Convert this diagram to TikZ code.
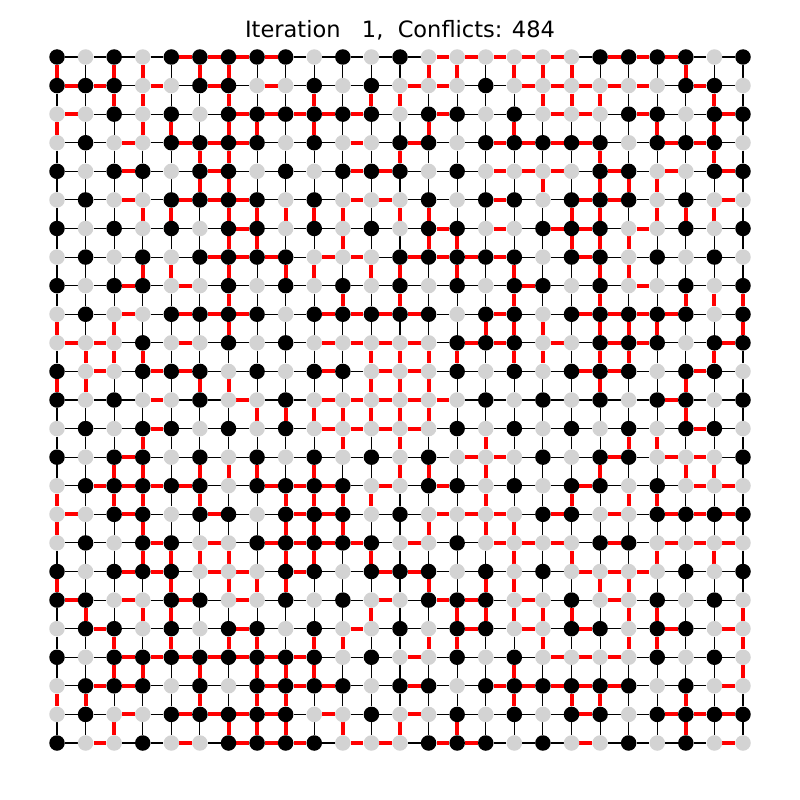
\documentclass[tikz,border=0pt]{standalone}
\usepackage{fontspec}
\setmainfont{DejaVu Sans}
\definecolor{ngray}{HTML}{D3D3D3}
\definecolor{cred}{HTML}{FF0000}
\pgfdeclarelayer{edges}
\pgfsetlayers{edges,main}
\newcommand\gsetrow[2]{\foreach \v [count=\c from 0] in {#2}{\expandafter\xdef\csname gcolX#1X\c\endcsname{\v}}}
\newcommand\gcol[2]{\csname gcolX#1X#2\endcsname}
\gsetrow{0}{1,0,1,0,1,1,1,1,1,0,1,0,1,0,0,0,0,0,0,1,1,1,1,0,1}
\gsetrow{1}{1,1,1,0,0,1,1,0,0,1,0,1,0,0,0,1,0,0,0,0,0,0,1,1,0}
\gsetrow{2}{0,0,1,0,1,0,1,1,1,1,1,1,0,1,1,0,1,0,0,0,1,1,0,1,1}
\gsetrow{3}{0,1,0,0,1,1,1,1,0,1,0,0,1,1,0,1,1,1,1,1,0,1,1,1,0}
\gsetrow{4}{1,0,1,1,0,1,1,0,1,0,1,1,1,0,1,0,0,0,0,1,1,0,0,1,1}
\gsetrow{5}{0,1,0,0,1,1,1,1,0,1,0,0,0,1,0,1,1,0,1,1,1,0,1,0,0}
\gsetrow{6}{1,0,1,0,1,0,1,1,0,1,0,1,0,1,1,0,0,1,1,1,0,0,1,0,1}
\gsetrow{7}{0,1,0,1,0,1,1,1,1,0,0,0,1,1,1,1,1,0,1,1,0,1,0,1,0}
\gsetrow{8}{1,0,1,1,0,0,1,0,1,0,1,0,1,0,1,0,1,1,0,1,0,0,1,0,1}
\gsetrow{9}{0,1,0,0,1,1,1,1,0,1,1,1,1,1,0,1,1,0,1,1,1,1,1,0,1}
\gsetrow{10}{0,0,0,1,0,0,1,0,1,0,0,0,0,0,1,1,1,0,0,1,1,1,0,1,1}
\gsetrow{11}{1,0,0,1,1,1,0,1,0,1,1,0,0,0,1,0,1,0,1,1,1,0,1,1,0}
\gsetrow{12}{1,0,1,0,0,1,0,0,1,0,0,0,0,0,0,1,0,1,0,1,0,1,1,0,1}
\gsetrow{13}{0,1,0,1,1,0,1,0,1,0,0,0,0,0,1,0,1,0,1,0,1,0,1,1,0}
\gsetrow{14}{1,0,1,1,0,1,0,1,0,1,0,1,0,1,0,0,0,1,0,1,1,0,0,0,1}
\gsetrow{15}{0,1,1,1,1,1,0,1,1,1,1,0,0,1,1,0,1,0,1,1,0,1,0,0,0}
\gsetrow{16}{0,0,1,1,0,1,1,0,1,1,1,0,1,0,0,0,0,1,1,0,0,1,1,1,1}
\gsetrow{17}{0,1,0,1,1,0,0,1,1,1,1,1,0,0,1,0,0,0,0,1,1,0,0,0,0}
\gsetrow{18}{1,0,1,1,1,0,0,0,1,1,0,1,1,1,0,1,0,1,0,0,0,0,1,0,1}
\gsetrow{19}{1,1,0,0,1,1,0,0,1,0,1,0,0,1,1,1,0,0,1,0,0,1,0,1,0}
\gsetrow{20}{0,1,1,0,1,0,1,1,0,1,0,0,1,0,1,1,0,0,1,1,0,1,1,0,0}
\gsetrow{21}{1,0,1,1,1,1,1,1,1,1,0,1,0,0,1,0,1,0,0,0,0,1,0,1,0}
\gsetrow{22}{0,1,1,1,0,1,0,1,1,1,1,0,1,1,0,1,1,1,1,1,1,0,1,0,0}
\gsetrow{23}{0,1,0,0,1,1,1,1,1,0,0,1,0,0,1,0,1,0,1,1,0,1,1,1,1}
\gsetrow{24}{1,0,0,1,0,0,1,1,1,1,0,0,0,1,1,1,0,1,0,0,1,0,1,0,0}
\begin{document}
\begin{tikzpicture}[x=1pt,y=-1pt,
  vtx/.style={circle,inner sep=0pt,minimum size=15.5pt,draw=none},
  edgeline/.style={line cap=butt}]
\useasboundingbox (0,0) rectangle (800,800);
\foreach \r in {0,...,24}{
  \foreach \c in {0,...,24}{
    \edef\ncol{\ifnum\gcol{\r}{\c}=1 black\else ngray\fi}
    \node[vtx,fill=\ncol] (n-\r-\c) at ({57+28.5833*\c},{57+28.5833*\r}) {};
  }
}
\begin{pgfonlayer}{edges}
\foreach \r in {0,...,24}{
  \foreach \c in {0,...,23}{
    \pgfmathtruncatemacro\cn{\c+1}
    \ifnum\gcol{\r}{\c}=\gcol{\r}{\cn}\relax
      \def\ecol{cred}\def\ew{4pt}
    \else
      \def\ecol{black}\def\ew{1.1pt}
    \fi
    \draw[edgeline,draw=\ecol,line width=\ew] (n-\r-\c) -- (n-\r-\cn);
  }
}
\foreach \r in {0,...,23}{
  \pgfmathtruncatemacro\rn{\r+1}
  \foreach \c in {0,...,24}{
    \ifnum\gcol{\r}{\c}=\gcol{\rn}{\c}\relax
      \def\ecol{cred}\def\ew{4pt}
    \else
      \def\ecol{black}\def\ew{1.1pt}
    \fi
    \draw[edgeline,draw=\ecol,line width=\ew] (n-\r-\c) -- (n-\rn-\c);
  }
}
\end{pgfonlayer}
\node[font=\fontsize{22.5}{26}\selectfont,inner sep=0pt] (title) at (400,30) {Iteration\ \ \ 1,\ \ Conflicts: 484};
\end{tikzpicture}
\end{document}
